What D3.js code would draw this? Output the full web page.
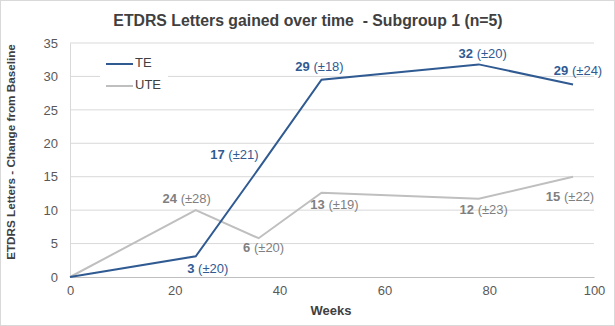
<!DOCTYPE html>
<html><head><meta charset="utf-8">
<script src="https://cdn.jsdelivr.net/npm/d3@7/dist/d3.min.js"></script>
<style>body{margin:0;background:#fff;} svg{display:block;font-family:"Liberation Sans",Arial,sans-serif;}</style>
</head><body>
<svg id="c" width="615" height="326"></svg>
<script>
const weeks = [0, 24, 36, 48, 78, 96];
const teValues = [0, 3.1, 16.2, 29.5, 31.8, 28.8];
const uteValues = [0, 10.0, 5.8, 12.6, 11.7, 15.0];
const teLabels = [null, ["3", "(±20)"], ["17", "(±21)"], ["29", "(±18)"], ["32", "(±20)"], ["29", "(±24)"]];
const uteLabels = [null, ["24", "(±28)"], ["6", "(±20)"], ["13", "(±19)"], ["12", "(±23)"], ["15", "(±22)"]];
const xTicks = [0, 20, 40, 60, 80, 100];
const yTicks = [0, 5, 10, 15, 20, 25, 30, 35];
const seriesNames = ["TE", "UTE"];

// label placement (styling, not data): dx, dy from point, anchor
const teLabelPos = [null, [12,14,"middle"], [0,-13,"end"], [-2,-12,"middle"], [4,-9,"middle"], [5,-12,"middle"]];
const uteLabelPos = [null, [-9,-10,"middle"], [5,11,"middle"], [13,13,"middle"], [5,12,"middle"], [-3,21,"middle"]];

const svg = d3.select("#c");
svg.append("rect").attr("x",0.5).attr("y",0.5).attr("width",614).attr("height",325)
  .attr("fill","#fff").attr("stroke","#d9d9d9");

const x = d3.scaleLinear().domain([0,100]).range([70,594]);
const y = d3.scaleLinear().domain([0,35]).range([277,43]);

// gridlines
svg.append("g").selectAll("line").data(yTicks.filter(d=>d>0)).join("line")
  .attr("x1",x(0)).attr("x2",x(100)).attr("y1",d=>y(d)).attr("y2",d=>y(d))
  .attr("stroke","#d9d9d9").attr("stroke-width",1);

// axes
const xAxis = svg.append("g").attr("transform",`translate(0,${y(0)})`)
  .call(d3.axisBottom(x).tickValues(xTicks).tickSize(0).tickPadding(9));
xAxis.select(".domain").attr("stroke","#bfbfbf");
xAxis.selectAll("text").attr("font-size",13).attr("fill","#595959").attr("font-family","Liberation Sans, Arial, sans-serif");

const yAxis = svg.append("g").attr("transform",`translate(${x(0)},0)`)
  .call(d3.axisLeft(y).tickValues(yTicks).tickSize(0).tickPadding(12));
yAxis.select(".domain").attr("stroke","#d9d9d9");
yAxis.selectAll("text").attr("font-size",13).attr("fill","#595959").attr("font-family","Liberation Sans, Arial, sans-serif");

// lines
const line = d3.line().x((d,i)=>x(weeks[i])).y(d=>y(d));
svg.append("path").datum(uteValues).attr("d",line).attr("fill","none")
  .attr("stroke","#bfbfbf").attr("stroke-width",2);
svg.append("path").datum(teValues).attr("d",line).attr("fill","none")
  .attr("stroke","#2f5a92").attr("stroke-width",2);

// data labels
function labels(vals, labs, pos, color){
  const g = svg.append("g");
  vals.forEach((v,i)=>{
    if(!labs[i]) return;
    const t = g.append("text").attr("x", x(weeks[i]) + pos[i][0]).attr("y", y(v) + pos[i][1])
      .attr("text-anchor", pos[i][2]).attr("dominant-baseline","middle")
      .attr("font-size",13).attr("fill",color);
    t.append("tspan").attr("font-weight","bold").text(labs[i][0]);
    t.append("tspan").text(" " + labs[i][1]);
  });
}
labels(teValues, teLabels, teLabelPos, "#2f5a92");
labels(uteValues, uteLabels, uteLabelPos, "#7f7f7f");

// legend
const leg = svg.append("g");
leg.append("rect").attr("x",100).attr("y",53).attr("width",68).attr("height",44).attr("fill","#fff");
const legColors = ["#2f5a92","#bfbfbf"];
seriesNames.forEach((n,i)=>{
  const yy = 64 + i*22;
  leg.append("line").attr("x1",106).attr("x2",133).attr("y1",yy).attr("y2",yy)
    .attr("stroke",legColors[i]).attr("stroke-width",2);
  leg.append("text").attr("x",135).attr("y",yy).attr("dominant-baseline","middle")
    .attr("font-size",13).attr("fill","#404040").text(n);
});

// titles
svg.append("text").attr("x",308).attr("y",22).attr("text-anchor","middle").attr("dominant-baseline","middle")
  .attr("font-size",15.8).attr("font-weight","bold").attr("fill","#404040")
  .attr("xml:space","preserve").text("ETDRS Letters gained over time  - Subgroup 1 (n=5)");
svg.append("text").attr("x",331).attr("y",312).attr("text-anchor","middle").attr("dominant-baseline","middle")
  .attr("font-size",13).attr("font-weight","bold").attr("fill","#404040").text("Weeks");
svg.append("text").attr("transform","translate(12,152) rotate(-90)").attr("text-anchor","middle")
  .attr("dominant-baseline","middle").attr("font-size",11.7).attr("font-weight","bold").attr("fill","#404040")
  .text("ETDRS Letters - Change from Baseline");
</script>
</body></html>
